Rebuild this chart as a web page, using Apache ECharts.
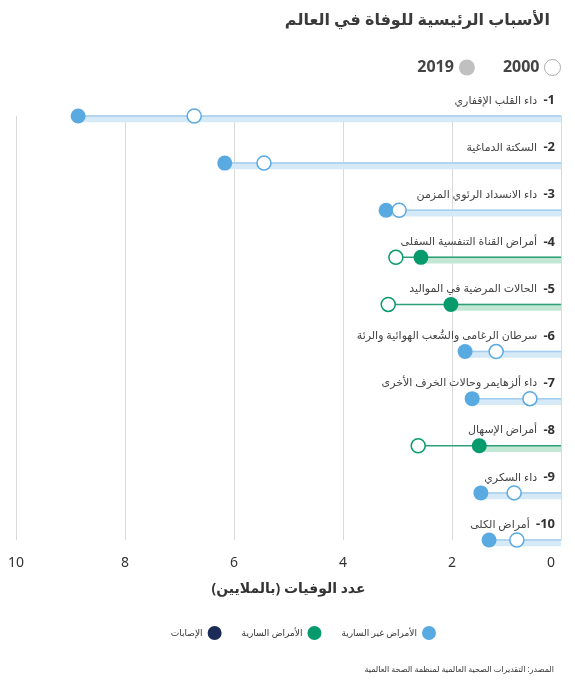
<!DOCTYPE html>
<html lang="ar">
<head>
<meta charset="utf-8">
<title>الأسباب الرئيسية للوفاة في العالم</title>
<script src="https://cdn.jsdelivr.net/npm/echarts@6/dist/echarts.min.js"></script>
<style>
  html, body { margin: 0; padding: 0; background: #fff; }
  #chart { width: 575px; height: 696px; }
</style>
</head>
<body>
<div id="chart"></div>
<script>
// causes of death, values in millions
const causes = [
  'داء القلب الإقفاري',
  'السكتة الدماغية',
  'داء الانسداد الرئوي المزمن',
  'أمراض القناة التنفسية السفلى',
  'الحالات المرضية في المواليد',
  'سرطان الرغامى والشُعب الهوائية والرئة',
  'داء ألزهايمر وحالات الخرف الأخرى',
  'أمراض الإسهال',
  'داء السكري',
  'أمراض الكلى'
];
const deaths2000 = [6.73, 5.45, 2.97, 3.03, 3.17, 1.19, 0.57, 2.62, 0.86, 0.81];
const deaths2019 = [8.86, 6.17, 3.21, 2.57, 2.02, 1.76, 1.63, 1.50, 1.47, 1.32];
// 0 = noncommunicable, 1 = communicable, 2 = injuries
const causeGroup = [0, 0, 0, 1, 1, 0, 0, 1, 0, 0];
const groupNames = ['الأمراض غير السارية', 'الأمراض السارية', 'الإصابات'];
const groupColors = ['#5aaae2', '#079a6c', '#1c2b57'];
const groupBand = ['#d5e9f7', '#c3e6d5', '#c9cde0'];
const groupLine = ['#a3cdee', '#2e9f77', '#1c2b57'];
const xTicks = [0, 2, 4, 6, 8, 10];

const font = '"Noto Sans", "DejaVu Sans", sans-serif';

const chart = echarts.init(document.getElementById('chart'));

const bandData = deaths2019.map((v, i) => ({
  value: v,
  itemStyle: { color: groupBand[causeGroup[i]] }
}));
const lineData = deaths2019.map((v, i) => ({
  value: Math.max(v, deaths2000[i]),
  itemStyle: { color: groupLine[causeGroup[i]] }
}));
const dots2019 = deaths2019.map((v, i) => ({
  value: [v, i],
  itemStyle: { color: groupColors[causeGroup[i]], opacity: 1 }
}));
const dots2000 = deaths2000.map((v, i) => ({
  value: [v, i],
  itemStyle: { color: '#fff', borderColor: groupColors[causeGroup[i]], borderWidth: 1.5, opacity: 1 }
}));

chart.setOption({
  animation: false,
  textStyle: { fontFamily: font },
  title: [
    {
      text: 'الأسباب الرئيسية للوفاة في العالم',
      right: 20, top: 7,
      textStyle: { fontSize: 16, fontWeight: 'bold', color: '#3a3a3a', fontFamily: font }
    },
    {
      text: 'المصدر: التقديرات الصحية العالمية لمنظمة الصحة العالمية',
      right: 16, top: 661,
      textStyle: { fontSize: 8, fontWeight: 'normal', color: '#333', fontFamily: font }
    }
  ],
  legend: [
    {
      data: [
        { name: '2019', icon: 'circle', itemStyle: { color: '#b0b0b0', borderWidth: 0 } },
        { name: '2000', icon: 'circle', itemStyle: { color: '#fff', borderColor: '#999', borderWidth: 1 } }
      ],
      right: 9, top: 54,
      align: 'right',
      itemWidth: 16, itemHeight: 16, itemGap: 28,
      selectedMode: false,
      textStyle: { fontSize: 16, fontWeight: 'bold', color: '#444' }
    },
    {
      data: groupNames.slice().reverse(),
      right: 134, top: 621,
      align: 'right',
      itemWidth: 14, itemHeight: 14, itemGap: 20,
      selectedMode: false,
      icon: 'circle',
      textStyle: { fontSize: 9, color: '#333' }
    }
  ],
  grid: { left: 16, right: 14, top: 116, bottom: 156, containLabel: false },
  xAxis: {
    type: 'value',
    inverse: true,
    min: xTicks[0],
    max: xTicks[xTicks.length - 1],
    interval: 2,
    name: 'عدد الوفيات (بالملايين)',
    nameLocation: 'middle',
    nameGap: 42,
    nameTextStyle: { fontSize: 14, fontWeight: 'bold', color: '#333' },
    axisLine: { show: false },
    axisTick: { show: false },
    axisLabel: {
      fontSize: 14, color: '#333', margin: 16, alignMinLabel: 'right',
      formatter: v => (v === 0 ? '{z|0}' : String(v)),
      rich: { z: { fontSize: 14, color: '#333', padding: [0, 6, 0, 0] } }
    },
    splitLine: { show: true, lineStyle: { color: '#d9d9d9', width: 1 } }
  },
  yAxis: {
    type: 'category',
    data: causes,
    inverse: true,
    position: 'right',
    boundaryGap: false,
    axisLine: { show: false },
    axisTick: { show: false },
    splitLine: { show: false },
    axisLabel: {
      inside: true,
      margin: 6,
      verticalAlign: 'bottom',
      padding: [0, 0, 9, 0],
      formatter: (v, i) => '{t|' + v + '}  {n|-' + (i + 1) + '}',
      rich: {
        t: { fontSize: 11, color: '#444', fontFamily: font },
        n: { fontSize: 13, fontWeight: 'bold', color: '#333', fontFamily: font }
      }
    }
  },
  series: [
    {
      type: 'bar',
      name: 'band',
      data: bandData,
      barWidth: 7,
      barGap: '-100%',
      silent: true,
      z: 1
    },
    {
      type: 'bar',
      name: 'link',
      data: lineData,
      barWidth: 1.5,
      barGap: '-100%',
      silent: true,
      z: 2
    },
    {
      type: 'scatter',
      name: '2019',
      data: dots2019,
      symbol: 'circle',
      symbolSize: 15,
      z: 3
    },
    {
      type: 'scatter',
      name: '2000',
      data: dots2000,
      symbol: 'circle',
      symbolSize: 14,
      z: 4
    },
    // group entries for the bottom legend
    ...groupNames.map((g, k) => ({
      type: 'scatter',
      name: g,
      data: [],
      itemStyle: { color: groupColors[k], opacity: 1 }
    }))
  ]
});

window.addEventListener('resize', () => chart.resize());
</script>
</body>
</html>
